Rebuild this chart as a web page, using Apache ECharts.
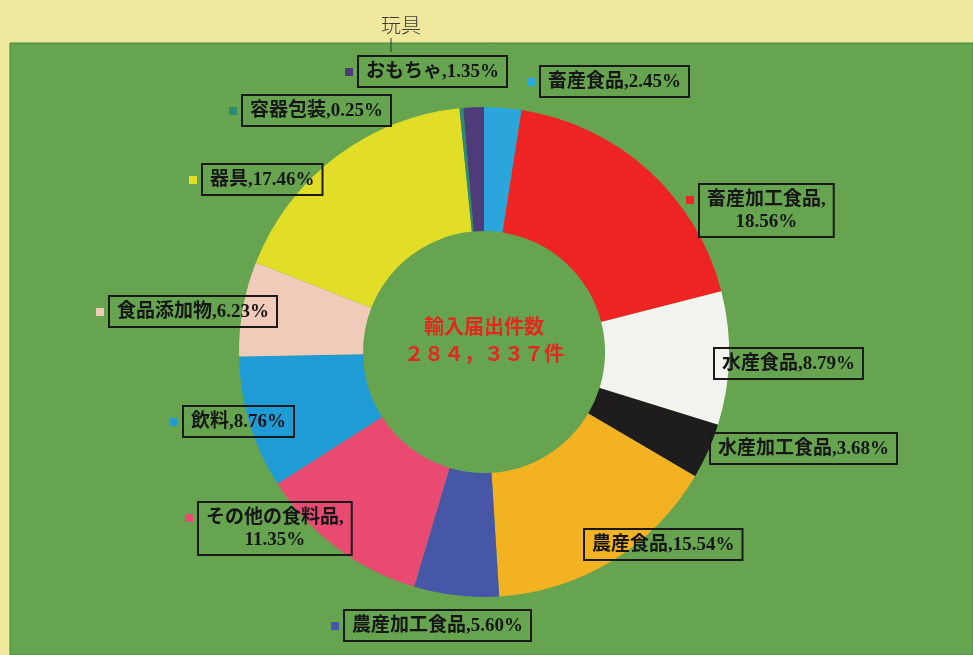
<!DOCTYPE html>
<html>
<head>
<meta charset="utf-8">
<script src="https://cdn.jsdelivr.net/npm/echarts@6/dist/echarts.min.js"></script>
<style>
  html, body { margin: 0; padding: 0; background: #efe89d; }
  #chart { width: 973px; height: 655px; }
</style>
</head>
<body>
<div id="chart"></div>
<script>
// 輸入届出件数の内訳（%）
const categories = ["畜産食品", "畜産加工食品", "水産食品", "水産加工食品", "農産食品", "農産加工食品",
  "その他の食料品", "飲料", "食品添加物", "器具", "容器包装", "おもちゃ"];
const shares = [2.45, 18.56, 8.79, 3.68, 15.54, 5.60, 11.35, 8.76, 6.23, 17.46, 0.25, 1.35];
const centerTitle = "輸入届出件数";
const centerTotal = "２８４，３３７件";
const note = "玩具";

const colors = ["#2ba6dc", "#ee2424", "#f3f3f0", "#1e1c1c", "#f3b222", "#4657a8",
  "#e84a72", "#1f9bd6", "#f1cbb9", "#e2dd27", "#2c8b72", "#4d3b7a"];

// label boxes: left, top (px); two-line labels wrap after the comma
const labelBoxes = [[539, 66], [698, 184], [713, 348], [709, 433], [583, 529], [343, 610],
  [197, 502], [182, 406], [108, 296], [201, 164], [241, 95], [357, 56]];
const wrapped = [1, 6];

const textFont = '"Liberation Serif", "Noto Sans CJK JP", serif';

const chart = echarts.init(document.getElementById("chart"));

const markerRich = {};
colors.forEach((c, i) => {
  markerRich["m" + i] = { width: 8, height: 8, backgroundColor: c };
});

const pieData = categories.map((name, i) => ({ name, value: shares[i] }));

chart.setOption({
  animation: false,
  backgroundColor: "#efe89d",
  color: colors,
  graphic: [
    {
      type: "rect",
      z: -10,
      shape: { x: 10, y: 43, width: 963, height: 612 },
      style: { fill: "#66a450", stroke: "#3f8a34", lineWidth: 1 }
    },
    {
      type: "text",
      x: 484,
      y: 340,
      style: {
        text: centerTitle + "\n" + centerTotal,
        fill: "#e3281f",
        font: 'bold 20px "Noto Sans CJK JP"',
        lineHeight: 27,
        align: "center",
        verticalAlign: "middle"
      }
    },
    {
      type: "text",
      x: 401,
      y: 25,
      style: {
        text: note,
        fill: "#3a3a3a",
        font: '300 20px "Noto Sans CJK JP"',
        align: "center",
        verticalAlign: "middle"
      }
    },
    {
      type: "line",
      shape: { x1: 391, y1: 38, x2: 391, y2: 52 },
      style: { stroke: "#333", lineWidth: 1 }
    }
  ],
  series: [
    {
      type: "pie",
      center: [484, 352],
      radius: [121, 245],
      startAngle: 90,
      clockwise: true,
      avoidLabelOverlap: false,
      silent: true,
      itemStyle: { borderWidth: 0 },
      labelLine: { show: false },
      label: {
        show: true,
        position: "outside",
        formatter: (p) => {
          const pct = shares[p.dataIndex].toFixed(2) + "%";
          const sep = wrapped.includes(p.dataIndex) ? ",\n" : ",";
          return p.name + sep + pct;
        },
        color: "#161616",
        fontFamily: textFont,
        fontWeight: "bold",
        fontSize: 19,
        lineHeight: 22,
        align: "center",
        borderColor: "#1a1a1a",
        borderWidth: 2,
        padding: [5, 8, 4, 8]
      },
      labelLayout: (p) => {
        const b = labelBoxes[p.dataIndex];
        return { x: b[0] + p.labelRect.width / 2, y: b[1], align: "center", verticalAlign: "top" };
      },
      data: pieData
    },
    {
      // colour markers left of each label box
      type: "pie",
      center: [484, 352],
      radius: [121, 245],
      startAngle: 90,
      silent: true,
      avoidLabelOverlap: false,
      itemStyle: { color: "transparent" },
      labelLine: { show: false },
      label: {
        show: true,
        position: "outside",
        formatter: (p) => "{m" + p.dataIndex + "| }",
        rich: markerRich
      },
      labelLayout: (p) => {
        const b = labelBoxes[p.dataIndex];
        return { x: b[0] - 12, y: b[1] + 12, align: "left", verticalAlign: "top" };
      },
      data: pieData
    }
  ]
});
</script>
</body>
</html>
